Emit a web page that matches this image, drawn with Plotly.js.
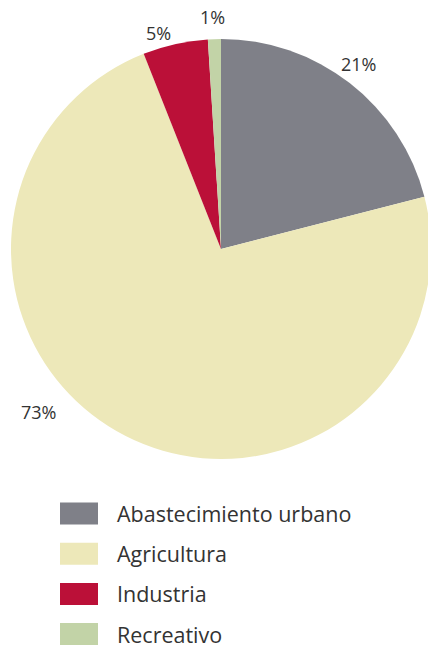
<!DOCTYPE html>
<html>
<head>
<meta charset="utf-8">
<script src="https://cdn.plot.ly/plotly-3.0.1.min.js"></script>
<style>
  html, body { margin: 0; padding: 0; background: #fff; overflow: hidden; }
  #chart { width: 432px; height: 650px; }
</style>
</head>
<body>
<div id="chart"></div>
<script>
// water use by sector (%)
var sectors = ["Abastecimiento urbano", "Agricultura", "Industria", "Recreativo"];
var shares = [21, 73, 5, 1];
var colors = ["#7f8088", "#ede8b9", "#bb1038", "#c2d3a7"];

// where the percent labels sit (pixels)
var labelPx = [[358, 64], [38, 412], [158, 33], [212, 17]];

var W = 432, H = 650;
var plotL = 11, plotT = 39, plotSize = 420;

function px2paper(x, y) {
  return [(x - plotL) / plotSize, (plotT + plotSize - y) / plotSize];
}

var trace = {
  type: "pie",
  labels: sectors,
  values: shares,
  marker: {colors: colors, line: {width: 0}},
  sort: false,
  direction: "clockwise",
  rotation: 0,
  textinfo: "none",
  hoverinfo: "label+percent",
  showlegend: false
};

var annotations = [];
var shapes = [];

// percent labels
shares.forEach(function(v, i) {
  var p = px2paper(labelPx[i][0], labelPx[i][1]);
  annotations.push({
    x: p[0], y: p[1], xref: "paper", yref: "paper",
    text: v + "%", showarrow: false,
    font: {family: "Open Sans, sans-serif", size: 18, color: "#333"},
    xanchor: "center", yanchor: "middle"
  });
});

// legend: swatch + label for every sector
var legX0 = 60, legX1 = 98, legY0 = 513.5, legStep = 40.2, swH = 22;
sectors.forEach(function(name, i) {
  var cy = legY0 + i * legStep;
  var a = px2paper(legX0, cy - swH / 2);
  var b = px2paper(legX1, cy + swH / 2);
  shapes.push({
    type: "rect", xref: "paper", yref: "paper",
    x0: a[0], x1: b[0], y0: b[1], y1: a[1],
    fillcolor: colors[i], line: {width: 0}
  });
  var t = px2paper(116, cy);
  annotations.push({
    x: t[0], y: t[1], xref: "paper", yref: "paper",
    text: name, showarrow: false,
    font: {family: "Open Sans, sans-serif", size: 21.5, color: "#333"},
    xanchor: "left", yanchor: "middle", borderpad: 0
  });
});

var layout = {
  width: W,
  height: H,
  margin: {l: plotL, r: W - plotL - plotSize, t: plotT, b: H - plotT - plotSize},
  paper_bgcolor: "#fff",
  showlegend: false,
  annotations: annotations,
  shapes: shapes
};

Plotly.newPlot("chart", [trace], layout, {displayModeBar: false, staticPlot: true});
</script>
</body>
</html>
